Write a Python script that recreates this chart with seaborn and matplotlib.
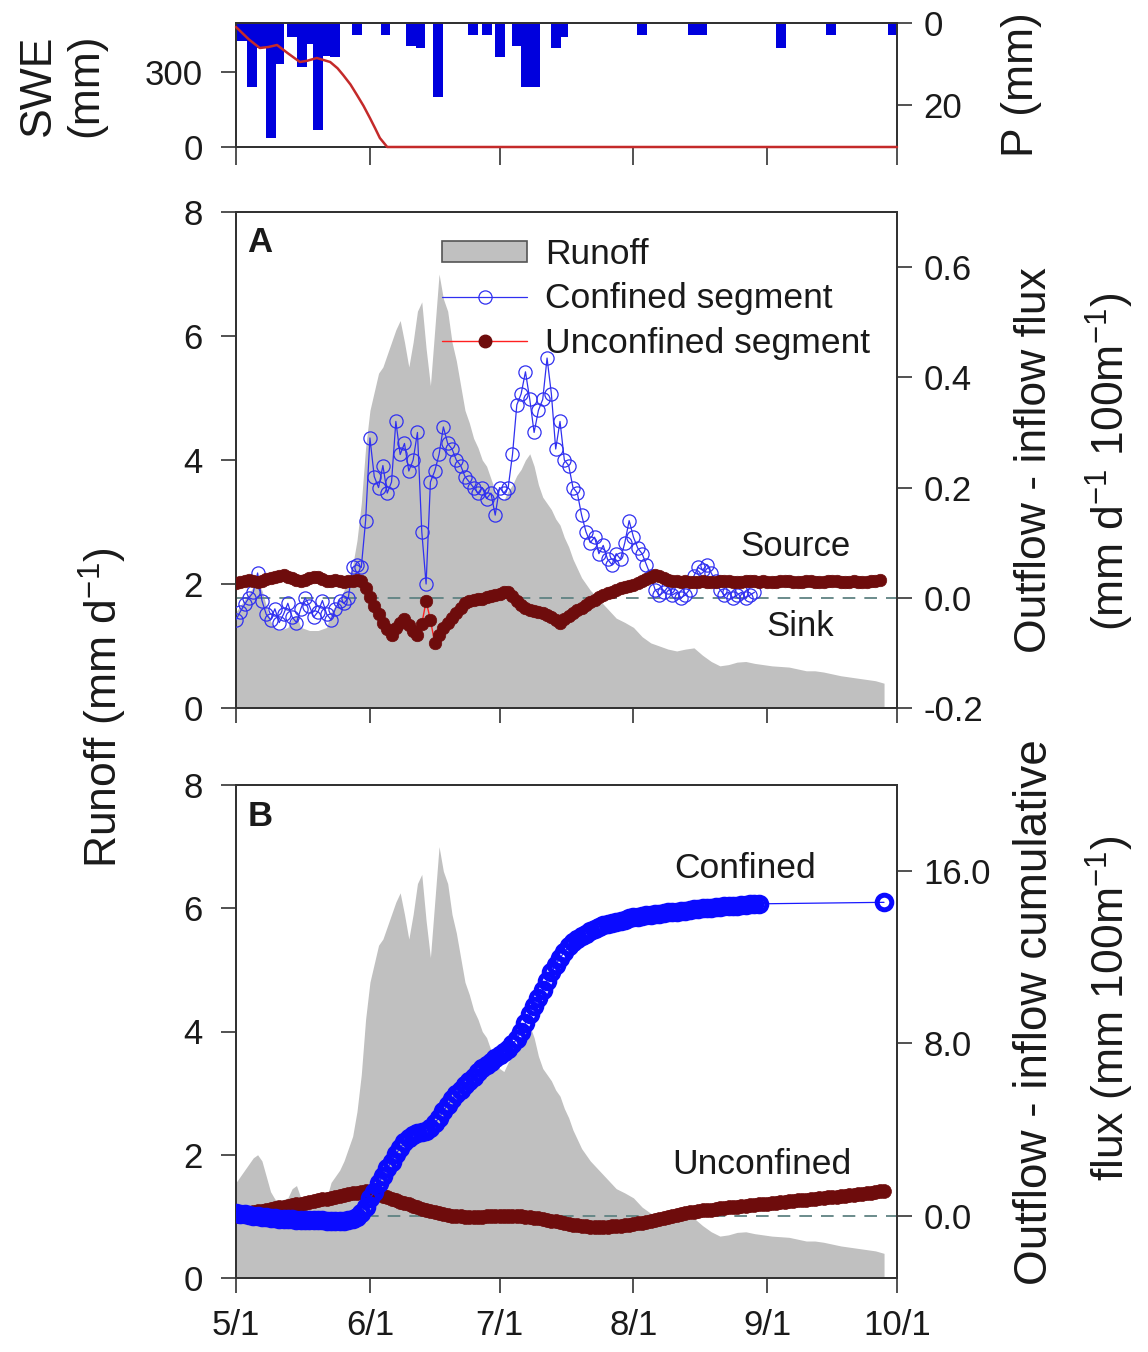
import matplotlib
matplotlib.use("Agg")
import matplotlib.pyplot as plt
import seaborn as sns
import pandas as pd
from matplotlib.patches import Patch
from matplotlib.lines import Line2D

# ------------------------------------------------------------------ data
# x = days after May 1
date_ticks = [0, 31, 61, 92, 123, 153]
date_labels = ["5/1", "6/1", "7/1", "8/1", "9/1", "10/1"]

swe_day = [0, 3, 5.5, 7.5, 9.5, 12, 14.8, 16.5, 18.7, 21.8, 23.5, 24.8, 26.5, 28, 29.5, 31, 32.2, 33.3, 35, 153]
swe_mm = [480, 430, 396, 400, 408, 375, 340, 345, 356, 340, 315, 288, 250, 208, 165, 116, 75, 36, 0, 0]

p_day = [1.3, 3.8, 6.0, 8.1, 10.0, 13.0, 15.3, 17.2, 18.9, 20.8, 22.9, 28.0, 34.6, 40.5, 42.7,
         46.8, 54.9, 58.1, 61.1, 65.0, 67.2, 69.3, 74.0, 75.8, 94.0, 105.7, 107.9, 126.2, 137.7, 152.0]
p_mm = [4.5, 15.5, 6.0, 28.0, 10.0, 3.5, 10.7, 5.0, 26.0, 8.0, 8.3, 3.0, 3.0, 5.5, 6.0,
        18.0, 3.0, 3.0, 8.3, 5.5, 15.6, 15.6, 6.0, 3.5, 3.0, 3.0, 3.0, 6.0, 3.0, 3.0]

runoff_day = [0, 2, 4, 5, 6, 7, 8, 9, 10, 12, 13, 14, 15, 17, 19, 21, 22, 24, 25, 26, 27, 28, 29, 30,
              31, 32, 33, 34, 35, 36, 37, 38, 39, 40, 41, 42, 43, 44, 45, 46, 47, 48, 49, 50,
              51, 52, 53, 54, 55, 56, 57, 58, 59, 60, 61, 62, 63, 64, 65, 66, 67, 68, 69, 70,
              71, 72, 73, 74, 75, 76, 77, 78, 79, 80, 82, 84, 86, 88, 90, 92, 94, 96, 98, 100,
              102, 104, 106, 108, 110, 112, 114, 116, 118, 120, 122, 124, 126, 128, 130, 132,
              134, 136, 138, 140, 142, 144, 146, 148, 150]
runoff_mm = [1.55, 1.75, 1.95, 2.0, 1.9, 1.65, 1.4, 1.28, 1.25, 1.3, 1.45, 1.5, 1.3, 1.25, 1.25, 1.3,
             1.55, 1.75, 1.9, 2.1, 2.3, 2.7, 3.3, 4.2,
             4.8, 5.1, 5.4, 5.5, 5.7, 5.9, 6.1, 6.25, 5.9, 5.5, 5.9, 6.4, 6.55, 5.8, 5.2, 6.1, 7.0, 6.6, 6.4, 5.9,
             5.6, 5.2, 4.8, 4.6, 4.35, 4.2, 4.0, 3.9, 3.7, 3.5, 3.4, 3.35, 3.5, 3.6, 3.75, 3.85, 4.0, 4.1, 3.9, 3.6,
             3.4, 3.3, 3.2, 3.05, 2.95, 2.75, 2.6, 2.4, 2.25, 2.1, 1.9, 1.75, 1.6, 1.45, 1.38, 1.3, 1.15, 1.05, 1.0, 0.95,
             0.92, 0.95, 0.97, 0.85, 0.75, 0.68, 0.7, 0.74, 0.75, 0.72, 0.7, 0.68, 0.67, 0.66, 0.63, 0.6,
             0.6, 0.58, 0.55, 0.52, 0.5, 0.48, 0.46, 0.44, 0.4]

conf_day = list(range(0, 121))
conf_flux = [-.040, -.025, -.012, .000, .010, .045, -.005, -.030, -.040, -.020,
             -.045, -.030, -.010, -.035, -.045, -.020, .000, -.015, -.035, -.025,
             -.005, -.030, -.040, -.020, -.005, -.010, .000, .055, .060, .055,
             .140, .290, .220, .200, .240, .190, .210, .320, .260, .280,
             .230, .250, .300, .120, .025, .210, .230, .260, .310, .280,
             .270, .250, .240, .220, .210, .200, .190, .200, .180, .190,
             .150, .200, .190, .200, .260, .350, .370, .410, .360, .300,
             .340, .360, .435, .370, .270, .320, .250, .240, .200, .190,
             .150, .120, .100, .110, .080, .095, .070, .060, .080, .070,
             .100, .140, .110, .090, .080, .060, .040, .015, .005, .010,
             .020, .005, .010, .000, .005, .015, .040, .055, .050, .060,
             .045, .030, .015, .005, .010, .000, .005, .010, .000, .005, .010]

unconf_day = list(range(0, 150))
unconf_flux = [.027, .028, .030, .032, .030, .029, .031, .034, .036, .038,
               .040, .041, .038, .035, .032, .031, .033, .036, .038, .037,
               .034, .031, .030, .032, .031, .029, .030, .031, .032, .030,
               .018, .002, -.015, -.030, -.045, -.057, -.067, -.055, -.045, -.038,
               -.050, -.060, -.067, -.048, -.006, -.040, -.082, -.068, -.055, -.045,
               -.036, -.027, -.018, -.010, -.006, -.004, -.003, -.002, .001, .003,
               .005, .007, .010, .011, .004, -.006, -.014, -.019, -.022, -.024,
               -.026, -.028, -.031, -.034, -.040, -.046, -.038, -.033, -.028, -.023,
               -.018, -.013, -.008, -.004, .001, .005, .008, .011, .014, .017,
               .019, .021, .023, .026, .030, .034, .038, .042, .039, .035,
               .033, .031, .030, .029, .030, .029, .028, .029, .030, .029,
               .028, .029, .030, .031, .030, .029, .028, .029, .030, .031,
               .030, .029, .030, .029, .028, .029, .030, .031, .030, .029,
               .028, .029, .030, .030, .029, .028, .029, .030, .031, .030,
               .029, .028, .029, .030, .029, .028, .029, .030, .031, .032]

cumc_day = list(range(0, 122)) + [150]
cumc_flux = [.10, .08, .05, .02, .00, -.02, -.05, -.08, -.10, -.12,
             -.14, -.15, -.15, -.17, -.19, -.20, -.20, -.21, -.22, -.22,
             -.22, -.23, -.24, -.24, -.25, -.24, -.22, -.15, -.05, .10,
             .40, .80, 1.10, 1.50, 1.85, 2.20, 2.50, 2.85, 3.15, 3.40,
             3.60, 3.75, 3.85, 3.90, 3.95, 4.05, 4.30, 4.55, 4.85, 5.15,
             5.40, 5.65, 5.85, 6.05, 6.25, 6.45, 6.65, 6.85, 7.00, 7.15,
             7.30, 7.45, 7.60, 7.75, 7.95, 8.20, 8.55, 8.95, 9.35, 9.75,
             10.10, 10.50, 10.90, 11.30, 11.65, 11.95, 12.25, 12.50, 12.70, 12.85,
             13.00, 13.10, 13.20, 13.30, 13.40, 13.50, 13.55, 13.60, 13.65, 13.70,
             13.75, 13.80, 13.85, 13.88, 13.92, 13.95, 13.98, 14.00, 14.03, 14.05,
             14.08, 14.10, 14.12, 14.15, 14.17, 14.20, 14.22, 14.25, 14.27, 14.30,
             14.30, 14.32, 14.35, 14.36, 14.38, 14.40, 14.40, 14.42, 14.44, 14.45,
             14.46, 14.48, 14.55]

cumu_day = list(range(0, 151))
cumu_flux = [.00, .04, .08, .12, .16, .20, .23, .27, .30, .34,
             .38, .41, .45, .48, .52, .55, .59, .63, .67, .71,
             .75, .79, .83, .87, .91, .95, .99, 1.03, 1.07, 1.10,
             1.12, 1.10, 1.05, 1.00, .93, .86, .79, .72, .65, .58,
             .52, .45, .38, .32, .26, .22, .16, .10, .06, .03,
             .00, -.02, -.04, -.05, -.05, -.05, -.05, -.05, -.04, -.04,
             -.03, -.03, -.02, -.02, -.02, -.03, -.04, -.05, -.07, -.09,
             -.12, -.15, -.19, -.23, -.27, -.32, -.36, -.40, -.43, -.46,
             -.48, -.50, -.51, -.52, -.52, -.52, -.51, -.50, -.49, -.47,
             -.45, -.43, -.40, -.36, -.33, -.29, -.25, -.20, -.15, -.10,
             -.05, -.01, .03, .07, .11, .15, .18, .21, .24, .26,
             .28, .30, .33, .35, .38, .40, .42, .44, .46, .48,
             .50, .52, .54, .56, .58, .60, .62, .64, .66, .68,
             .70, .72, .74, .76, .78, .80, .82, .84, .86, .88,
             .90, .92, .94, .96, .98, 1.00, 1.03, 1.06, 1.09, 1.12, 1.15]

# ------------------------------------------------------------------ style
sns.set_style("ticks")
plt.rcParams["font.family"] = ["Liberation Sans", "DejaVu Sans"]
plt.rcParams["mathtext.fontset"] = "custom"
plt.rcParams["mathtext.rm"] = "Liberation Sans"
plt.rcParams["mathtext.it"] = "Liberation Sans:italic"
plt.rcParams["mathtext.default"] = "regular"

W, H = 1148, 1352
fig = plt.figure(figsize=(W / 100, H / 100), dpi=100)


def fx(px):
    return px / W


def fy(py):
    return 1 - py / H


L, R = 236, 897
ax_top = fig.add_axes([fx(L), fy(147), (R - L) / W, (147 - 23) / H])
axA = fig.add_axes([fx(L), fy(708), (R - L) / W, (708 - 212) / H])
axB = fig.add_axes([fx(L), fy(1278), (R - L) / W, (1278 - 785) / H])

SPINE = "#333333"
TXT = "#1a1a1a"
TICK_FS = 25
LAB_FS = 32
GRAY = "#c0c0c0"
BLUE = "#1a1aff"
DRED = "#6e0c0c"
RED = "#ff2020"
DASH = "#5f8282"


def style(ax, side):
    for s in ax.spines.values():
        s.set_visible(True)
        s.set_color(SPINE)
        s.set_linewidth(1.4)
    ax.tick_params(axis="y", direction="out", length=11, width=1.2, colors=SPINE,
                   labelcolor=TXT, labelsize=TICK_FS, pad=13 if side == "left" else 8)
    ax.tick_params(axis="x", direction="out", length=11, width=1.2, colors=SPINE,
                   labelcolor=TXT, labelsize=TICK_FS, pad=11)


# ------------------------------------------------------------------ top panel
ax_p = ax_top.twinx()
ax_p.bar(p_day, p_mm, width=2.3, color="#0000dd", linewidth=0, align="center")
ax_p.set_ylim(30.2, 0)
ax_p.set_yticks([0, 20])
style(ax_p, "right")

sns.lineplot(x=swe_day, y=swe_mm, ax=ax_top, color="#c42a2a", linewidth=1.8,
             estimator=None, sort=False, clip_on=False, zorder=5)
ax_top.set_zorder(ax_p.get_zorder() + 1)
ax_top.patch.set_visible(False)
ax_top.set_ylim(0, 496)
ax_top.set_yticks([0, 300])
ax_top.set_xlim(0, 153)
ax_top.set_xticks(date_ticks)
ax_top.set_xticklabels([])
style(ax_top, "left")
ax_top.tick_params(axis="x", length=13)
ax_top.set_xlabel("")
ax_top.set_ylabel("")

# ------------------------------------------------------------------ panel A
axA.fill_between(runoff_day, runoff_mm, 0, color=GRAY, linewidth=0)
axA.set_xlim(0, 153)
axA.set_ylim(0, 8)
axA.set_yticks([0, 2, 4, 6, 8])
axA.set_xticks(date_ticks)
axA.set_xticklabels([])
style(axA, "left")

axA2 = axA.twinx()
axA2.axhline(0, color=DASH, linewidth=1.3, linestyle=(0, (7, 5)), zorder=1)
sns.lineplot(x=conf_day, y=conf_flux, ax=axA2, color="#3030f0", linewidth=0.9,
             marker="o", markersize=9.5, markerfacecolor="none", markeredgecolor="#3030f0",
             markeredgewidth=0.9, estimator=None, sort=False, zorder=3)
sns.lineplot(x=unconf_day, y=unconf_flux, ax=axA2, color=RED, linewidth=1.0,
             marker="o", markersize=9, markerfacecolor=DRED, markeredgecolor=DRED,
             markeredgewidth=0.5, estimator=None, sort=False, zorder=4)
axA2.set_ylim(-0.2, 0.70)
axA2.set_yticks([-0.2, 0.0, 0.2, 0.4, 0.6])
axA2.set_yticklabels(["-0.2", "0.0", "0.2", "0.4", "0.6"])
axA2.set_ylabel("")
style(axA2, "right")

handles = [Patch(facecolor=GRAY, edgecolor="#555555", linewidth=1.2),
           Line2D([0], [0], color="#3030f0", lw=0.9, marker="o", markersize=9.5,
                  markerfacecolor="none", markeredgecolor="#3030f0", markeredgewidth=0.9),
           Line2D([0], [0], color=RED, lw=1.0, marker="o", markersize=9,
                  markerfacecolor=DRED, markeredgecolor=DRED)]
leg = axA2.legend(handles, ["Runoff", "Confined segment", "Unconfined segment"],
                  loc="upper left", bbox_to_anchor=((442 - L) / (R - L), (708 - 238) / 496),
                  frameon=False, fontsize=25.5, handlelength=2.4, handleheight=0.5,
                  handletextpad=0.5, labelspacing=0.32, borderpad=0, borderaxespad=0)
for t in leg.get_texts():
    t.set_color(TXT)

# ------------------------------------------------------------------ panel B
axB.fill_between(runoff_day, runoff_mm, 0, color=GRAY, linewidth=0)
axB.set_xlim(0, 153)
axB.set_ylim(0, 8)
axB.set_yticks([0, 2, 4, 6, 8])
axB.set_xticks(date_ticks)
axB.set_xticklabels(date_labels)
style(axB, "left")

axB2 = axB.twinx()
axB2.axhline(0, color=DASH, linewidth=1.3, linestyle=(0, (7, 5)), zorder=1)
sns.lineplot(x=cumu_day, y=cumu_flux, ax=axB2, color=RED, linewidth=1.0,
             marker="o", markersize=10, markerfacecolor=DRED, markeredgecolor=DRED,
             markeredgewidth=0.5, estimator=None, sort=False, zorder=3)
sns.lineplot(x=cumc_day, y=cumc_flux, ax=axB2, color=BLUE, linewidth=0.9,
             marker="o", markersize=10.5, markerfacecolor="none", markeredgecolor="#0a0aff",
             markeredgewidth=3.6, estimator=None, sort=False, zorder=4)
axB2.set_ylim(-2.9, 20.0)
axB2.set_yticks([0, 8, 16])
axB2.set_yticklabels(["0.0", "8.0", "16.0"])
axB2.set_ylabel("")
style(axB2, "right")

# ------------------------------------------------------------------ texts
fig.text(fx(260), fy(243), "A", fontsize=25, fontweight="bold", ha="center", va="center", color=TXT)
fig.text(fx(260), fy(816), "B", fontsize=25, fontweight="bold", ha="center", va="center", color=TXT)
fig.text(fx(796), fy(546), "Source", fontsize=25, ha="center", va="center", color=TXT)
fig.text(fx(800), fy(626), "Sink", fontsize=25, ha="center", va="center", color=TXT)
fig.text(fx(745), fy(869), "Confined", fontsize=25.5, ha="center", va="center", color=TXT)
fig.text(fx(762), fy(1164), "Unconfined", fontsize=25.5, ha="center", va="center", color=TXT)

fig.text(fx(38), fy(85), "SWE", fontsize=LAB_FS, rotation=90, ha="center", va="center", color=TXT)
fig.text(fx(86), fy(85), "(mm)", fontsize=LAB_FS, rotation=90, ha="center", va="center", color=TXT)
fig.text(fx(1022), fy(85), "P (mm)", fontsize=LAB_FS, rotation=90, ha="center", va="center", color=TXT)
fig.text(fx(103), fy(708), "Runoff (mm d$^{-1}$)", fontsize=LAB_FS, rotation=90,
         ha="center", va="center", color=TXT)
fig.text(fx(1035), fy(460), "Outflow - inflow flux", fontsize=LAB_FS, rotation=90,
         ha="center", va="center", color=TXT)
fig.text(fx(1110), fy(462), "(mm d$^{-1}$ 100m$^{-1}$)", fontsize=LAB_FS, rotation=90,
         ha="center", va="center", color=TXT)
fig.text(fx(1035), fy(1012), "Outflow - inflow cumulative", fontsize=33, rotation=90,
         ha="center", va="center", color=TXT)
fig.text(fx(1110), fy(1008), "flux (mm 100m$^{-1}$)", fontsize=LAB_FS, rotation=90,
         ha="center", va="center", color=TXT)

fig.savefig("out.png", dpi=100)
